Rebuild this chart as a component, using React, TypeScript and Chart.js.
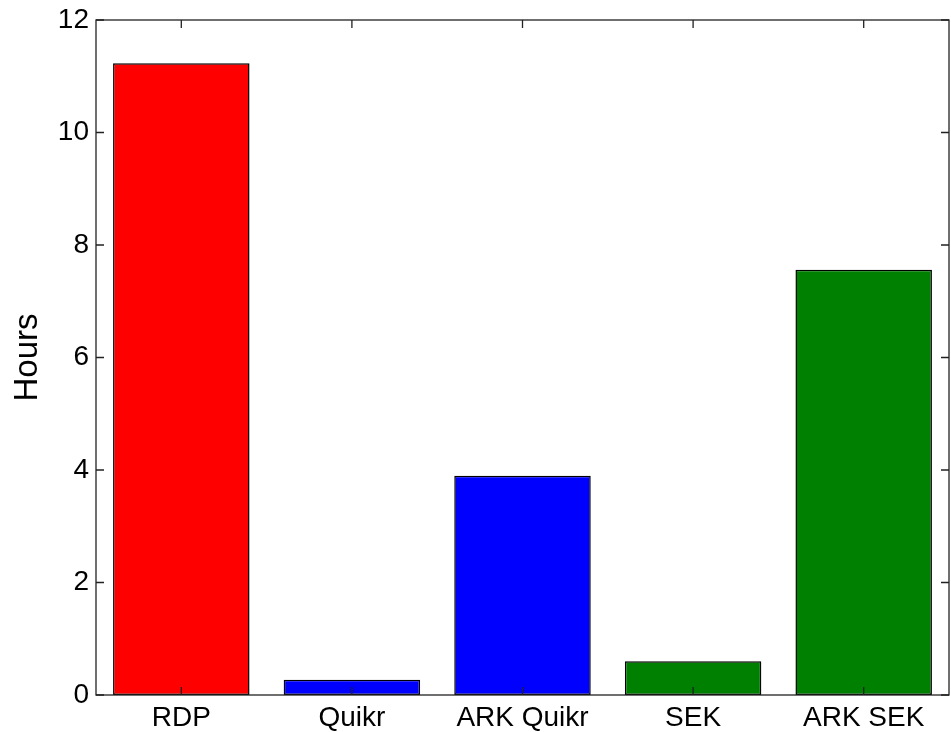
import React, { useEffect, useRef } from "react";
import { Chart, registerables } from "chart.js";

Chart.register(...registerables);

const categories = ["RDP", "Quikr", "ARK Quikr", "SEK", "ARK SEK"];
const hours = [11.23, 0.27, 3.9, 0.6, 7.56];
const barColors = ["#ff0000", "#0000ff", "#0000ff", "#008000", "#008000"];
const yTicks = [0, 2, 4, 6, 8, 10, 12];

const FONT = "'Liberation Sans', Arial, sans-serif";

const boxPlugin = {
  id: "boxTicks",
  afterDraw(chart: any) {
    const { ctx, chartArea } = chart;
    const xs = chart.scales.x;
    const ys = chart.scales.y;
    const { left, right, top, bottom } = chartArea;
    ctx.save();
    ctx.strokeStyle = "#222";
    ctx.lineWidth = 1.3;
    ctx.strokeRect(left, top, right - left, bottom - top);
    const tl = 8;
    ctx.beginPath();
    yTicks.forEach((v) => {
      const y = ys.getPixelForValue(v);
      ctx.moveTo(left, y);
      ctx.lineTo(left + tl, y);
      ctx.moveTo(right, y);
      ctx.lineTo(right - tl, y);
    });
    categories.forEach((_, i) => {
      const x = xs.getPixelForValue(i);
      ctx.moveTo(x, bottom);
      ctx.lineTo(x, bottom - tl);
      ctx.moveTo(x, top);
      ctx.lineTo(x, top + tl);
    });
    ctx.stroke();
    ctx.restore();
  },
};

export default function App() {
  const ref = useRef<HTMLCanvasElement | null>(null);
  useEffect(() => {
    if (!ref.current) return;
    const chart = new Chart(ref.current, {
      type: "bar",
      data: {
        labels: categories,
        datasets: [
          {
            data: hours,
            backgroundColor: barColors,
            borderColor: "#000",
            borderWidth: 1.5,
            borderSkipped: false,
            barPercentage: 0.8,
            categoryPercentage: 1,
          },
        ],
      },
      options: {
        responsive: false,
        animation: false,
        layout: { padding: { top: 20, right: 2, left: 0, bottom: 0 } },
        plugins: { legend: { display: false }, tooltip: { enabled: false } },
        scales: {
          x: {
            grid: { display: false, drawTicks: false },
            border: { display: false },
            ticks: {
              color: "#000",
              font: { family: FONT, size: 28 },
              padding: 6,
              maxRotation: 0,
              autoSkip: false,
            },
            afterFit: (s: any) => {
              s.height = 37;
              s.paddingLeft = 0;
              s.paddingRight = 0;
            },
          },
          y: {
            min: 0,
            max: 12,
            grid: { display: false, drawTicks: false },
            border: { display: false },
            ticks: {
              stepSize: 2,
              color: "#000",
              font: { family: FONT, size: 28 },
              padding: 7,
            },
            title: {
              display: true,
              text: "Hours",
              color: "#000",
              font: { family: FONT, size: 33 },
              padding: { top: 8, bottom: 0 },
            },
            afterFit: (s: any) => {
              s.width = 96;
              s.paddingTop = 0;
              s.paddingBottom = 0;
            },
          },
        },
      },
      plugins: [boxPlugin],
    });
    return () => chart.destroy();
  }, []);
  return (
    <div style={{ position: "absolute", left: 0, top: 0, width: 951, height: 732, background: "#fff" }}>
      <canvas ref={ref} width={951} height={732} style={{ display: "block" }} />
    </div>
  );
}
